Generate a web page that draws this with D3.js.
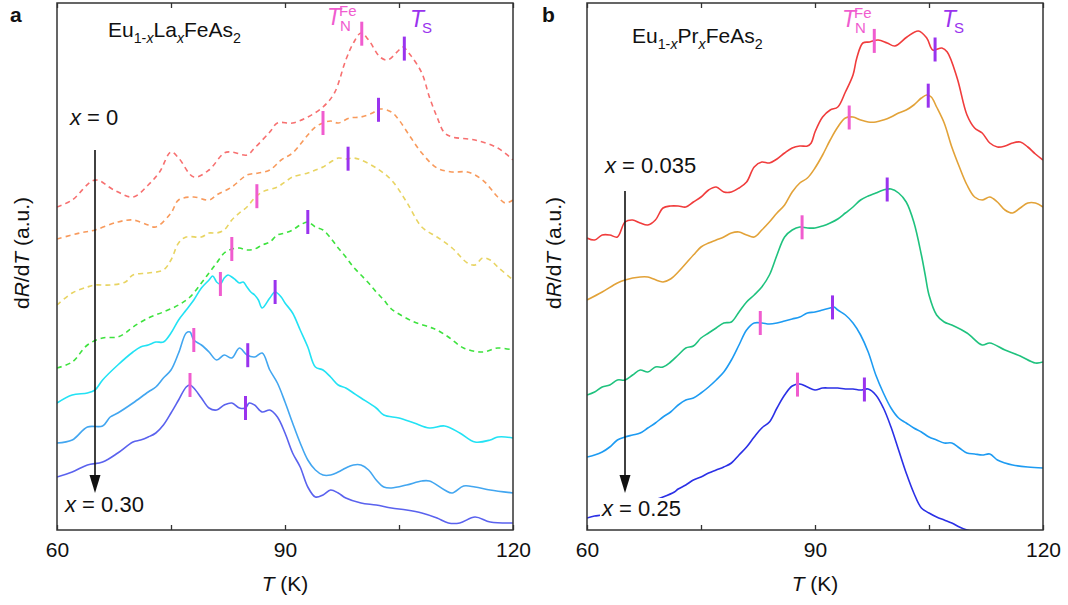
<!DOCTYPE html>
<meta charset="utf-8">
<head>
<style>
    body { margin: 0; background: #fff; }
    svg { font-family: "Liberation Sans", Arial, sans-serif; }
    .frame { fill: none; stroke: #333; stroke-width: 1.5; }
    .tick line { stroke: #333; stroke-width: 1.3; }
    .tick text { fill: #111; }
</style>
<script src="https://cdn.jsdelivr.net/npm/d3@7"></script>
</head>
<body>
<svg id="chart" width="1068" height="605"></svg>
<script>
// ---- panel a : Eu1-xLaxFeAs2, [T (K), dR/dT (a.u., offset)] ----
var laX000 = [[60,3.23],[62,3.30],[65,3.50],[67.5,3.40],[70,3.33],[72,3.45],[73.5,3.58],[75,3.78],[76,3.72],[78,3.53],[80,3.60],[82,3.77],[83,3.78],[85,3.75],[86,3.82],[88,3.98],[89,4.07],[91,4.07],[93,4.13],[95,4.23],[96.5,4.37],[98,4.70],[99,4.87],[100,4.97],[101,4.90],[102.5,4.73],[103.5,4.70],[105,4.80],[105.5,4.83],[106.5,4.75],[108,4.57],[109,4.33],[110,4.13],[111,3.97],[112,3.93],[115,3.90],[118,3.82],[120,3.70]];
var laX005 = [[60,2.91],[63,2.97],[65,3.00],[68,3.08],[70,3.10],[72,3.05],[73,3.03],[75,3.17],[76,3.30],[78,3.33],[80,3.30],[81,3.35],[83,3.43],[85,3.55],[86.5,3.57],[88,3.60],[89.5,3.70],[91,3.77],[93,3.95],[94,4.03],[95,4.07],[96,4.09],[97,4.07],[98.5,4.12],[100,4.13],[101.5,4.17],[102.5,4.21],[104,4.18],[105,4.10],[106.5,3.93],[108,3.77],[110,3.62],[112,3.58],[114,3.58],[116,3.50],[118,3.33],[119,3.27],[120,3.30]];
var laX010 = [[60,2.25],[62,2.37],[64,2.43],[65,2.45],[67,2.45],[69,2.48],[70,2.55],[72,2.57],[74,2.60],[75,2.70],[76,2.87],[77,2.93],[79,2.93],[80,2.97],[81,2.97],[82,3.00],[83,3.10],[84,3.17],[85,3.23],[86,3.32],[87,3.38],[89,3.43],[90,3.48],[91,3.53],[93,3.57],[94,3.60],[95,3.63],[96,3.68],[97,3.72],[98,3.71],[99,3.72],[100,3.70],[102,3.62],[104,3.50],[106,3.28],[108,3.03],[110,2.93],[112,2.82],[114,2.67],[115,2.65],[116,2.72],[117,2.70],[118,2.63],[120,2.50]];
var laX015 = [[60,1.62],[62,1.68],[64,1.85],[66,1.92],[68,1.93],[69,1.97],[70,2.03],[72,2.12],[74,2.18],[76,2.25],[77.5,2.33],[79,2.47],[80,2.57],[81,2.67],[82,2.77],[83,2.81],[84,2.82],[85,2.80],[86,2.81],[87,2.85],[88,2.88],[89,2.95],[90,2.97],[91,3.00],[92,3.05],[93,3.08],[94,3.03],[95,3.00],[96,2.92],[97,2.82],[98,2.73],[99,2.63],[100,2.55],[101,2.47],[102,2.38],[103,2.30],[104,2.21],[105,2.16],[107,2.08],[109,2.03],[110,2.00],[111.5,1.93],[113.5,1.82],[116,1.78],[118,1.82],[120,1.80]];
var laX020 = [[60,1.27],[62,1.35],[64,1.37],[65,1.40],[66,1.50],[68,1.65],[70,1.78],[71,1.83],[72,1.85],[73,1.88],[74,1.88],[75,1.97],[76,2.10],[77,2.20],[78,2.30],[79,2.42],[80,2.50],[80.5,2.54],[81,2.48],[81.5,2.46],[82,2.52],[82.5,2.55],[83,2.53],[83.5,2.50],[84,2.47],[84.5,2.48],[85,2.43],[85.5,2.38],[86,2.35],[86.5,2.30],[87,2.22],[88,2.32],[88.7,2.38],[89.5,2.33],[90,2.27],[91,2.17],[92,2.00],[93,1.83],[94,1.63],[95,1.60],[96,1.53],[97,1.45],[98,1.42],[99,1.37],[100,1.32],[102,1.22],[103,1.15],[105,1.12],[107,1.07],[109,1.02],[111,1.04],[113,0.97],[115,0.88],[117,0.90],[118,0.93],[120,0.92]];
var laX025 = [[60,0.87],[62,0.90],[64,1.03],[66,1.04],[67,1.13],[68,1.17],[70,1.27],[72,1.38],[73,1.43],[74,1.52],[75,1.60],[76,1.77],[77,1.97],[77.5,1.98],[78,1.90],[79,1.85],[80,1.78],[81,1.70],[82,1.75],[83,1.72],[84,1.82],[85,1.75],[86,1.73],[87,1.77],[88,1.60],[89,1.47],[90,1.28],[91,1.07],[92,0.87],[93,0.70],[94,0.60],[95,0.55],[96,0.55],[97,0.58],[98,0.62],[99,0.65],[100,0.65],[101,0.60],[102,0.50],[103,0.43],[104,0.42],[106,0.45],[108,0.49],[109,0.49],[111,0.40],[112,0.37],[113.5,0.44],[115,0.43],[117,0.40],[120,0.37]];
var laX030 = [[60,0.53],[62,0.58],[64,0.65],[66,0.68],[68,0.77],[70,0.88],[71,0.90],[72,0.93],[73,0.97],[74,1.05],[75,1.17],[76,1.30],[77,1.43],[77.5,1.45],[78,1.42],[79,1.32],[80,1.22],[81,1.20],[82,1.25],[83,1.27],[84,1.22],[84.8,1.22],[85.3,1.27],[86,1.25],[87,1.18],[88,1.20],[89,1.13],[90,0.97],[91,0.77],[92,0.63],[93,0.43],[94,0.33],[95,0.35],[96,0.40],[97,0.37],[98,0.32],[100,0.27],[102,0.25],[104,0.22],[106,0.20],[108,0.17],[110,0.12],[111.5,0.07],[113,0.07],[115,0.13],[117,0.08],[120,0.07]];
var laTN = [100.1, 95.0, 86.3, 83.0, 81.5, 78.0, 77.5];
var laTS = [105.7, 102.3, 98.3, 93.0, 88.7, 85.1, 84.8];

// ---- panel b : Eu1-xPrxFeAs2 ----
var prX035 = [[60,2.92],[61,2.90],[62,2.95],[63,2.95],[64,2.93],[65,3.08],[66,3.10],[67,3.07],[68,3.05],[69,3.10],[70,3.22],[71,3.24],[72,3.24],[73,3.23],[74,3.28],[75,3.33],[76,3.40],[77,3.43],[78,3.38],[79,3.38],[80,3.42],[81,3.48],[82,3.63],[83,3.68],[84,3.67],[85,3.71],[86,3.77],[87,3.82],[88,3.84],[89,3.84],[89.5,3.87],[90,3.98],[91,4.13],[92,4.20],[93,4.23],[94,4.38],[95,4.55],[95.5,4.72],[96.3,4.87],[97.2,4.88],[98.3,4.90],[99.5,4.87],[100.5,4.84],[102.1,4.93],[103.6,4.99],[104.7,4.92],[105.5,4.80],[106.7,4.82],[107.4,4.78],[108.7,4.52],[110,4.15],[111,4.02],[112,3.97],[113,3.87],[114,3.83],[115,3.84],[116,3.87],[117,3.88],[118,3.83],[119,3.76],[120,3.70]];
var prX050 = [[60,2.30],[62,2.38],[64,2.47],[65,2.50],[67,2.53],[68,2.53],[70,2.48],[71,2.51],[72,2.58],[74,2.75],[75,2.83],[76,2.87],[77,2.90],[78,2.93],[79,2.97],[80,2.98],[81,2.95],[82,2.93],[83,3.00],[84,3.08],[85,3.17],[86,3.25],[87,3.38],[88,3.47],[89,3.52],[90,3.62],[91,3.75],[92,3.90],[93,4.03],[94,4.12],[95,4.13],[96,4.10],[97,4.08],[98,4.08],[99,4.10],[100,4.13],[101,4.17],[102,4.20],[103,4.25],[104,4.32],[104.7,4.35],[105.3,4.33],[106,4.23],[107,4.07],[108,3.83],[109,3.63],[110,3.45],[111,3.33],[112,3.30],[113,3.33],[114,3.28],[115,3.20],[116,3.17],[117,3.22],[118,3.27],[119,3.27],[120,3.23]];
var prX100 = [[60,1.35],[61,1.38],[62,1.43],[63,1.45],[64,1.50],[65,1.50],[66,1.55],[67,1.60],[68,1.58],[69,1.63],[70,1.63],[71,1.68],[72,1.75],[73,1.82],[74,1.84],[75,1.92],[76,1.97],[77,2.02],[78,2.07],[79,2.08],[80,2.18],[81,2.28],[82,2.35],[83,2.43],[84,2.55],[85,2.75],[86,2.93],[87,3.00],[88,3.03],[89,3.02],[90,3.02],[91,3.04],[92,3.07],[93,3.11],[94,3.17],[95,3.23],[96,3.30],[97,3.34],[98,3.37],[99,3.40],[100,3.41],[101,3.37],[102,3.28],[103,3.08],[104,2.75],[104.5,2.55],[105,2.35],[106,2.15],[107,2.08],[108,2.05],[110,1.97],[112,1.85],[113,1.87],[115,1.80],[117,1.74],[119,1.67],[120,1.68]];
var prX150 = [[60,0.73],[61,0.75],[62,0.78],[63,0.83],[64,0.90],[65,0.93],[66,0.95],[67,0.97],[68,1.02],[69,1.07],[70,1.13],[71,1.18],[72,1.25],[73,1.30],[74,1.32],[75,1.37],[76,1.43],[77,1.50],[78,1.58],[79,1.70],[80,1.85],[81,2.00],[82,2.07],[83,2.07],[84,2.06],[85,2.07],[86,2.09],[87,2.11],[88,2.13],[89,2.17],[90,2.18],[91,2.20],[92,2.22],[92.5,2.23],[93,2.20],[94,2.15],[95,2.07],[96,1.95],[97,1.78],[98,1.55],[99,1.37],[100,1.22],[101,1.12],[102,1.07],[103,1.02],[104,0.98],[105,0.93],[106,0.90],[107,0.87],[108,0.87],[109,0.82],[110,0.77],[111,0.76],[112,0.75],[113,0.76],[114,0.70],[115,0.67],[116,0.65],[118,0.63],[120,0.62]];
var prX250 = [[60,0.12],[61,0.14],[62,0.15],[64,0.20],[66,0.24],[68,0.28],[70,0.33],[71.5,0.38],[72,0.41],[73,0.45],[74,0.50],[75,0.53],[76,0.57],[77,0.60],[78,0.63],[79,0.67],[80,0.75],[81,0.83],[82,0.93],[83,1.02],[84,1.08],[85,1.22],[86,1.35],[87,1.44],[88,1.46],[89,1.43],[90,1.40],[91,1.42],[92,1.42],[93,1.42],[94,1.41],[95,1.41],[96,1.40],[97,1.41],[98,1.35],[99,1.22],[100,1.03],[101,0.80],[102,0.57],[103,0.37],[104,0.22],[105,0.17],[106,0.13],[107,0.10],[108,0.07],[109,0.03],[110,0.00],[111,-0.02],[112,-0.05]];
var prTN = [97.8, 94.5, 88.3, 82.8, 87.7];
var prTS = [105.8, 104.9, 99.5, 92.3, 96.5];

var xTicks = [60, 75, 90, 105, 120];

var W = 456, H = 527;
var x = d3.scaleLinear().domain([60, 120]).range([0, W]);
var y = d3.scaleLinear().domain([0, 5.27]).range([H, 0]);
var svg = d3.select("#chart");

var line = d3.line()
    .x(function (d) { return x(d[0]); })
    .y(function (d) { return y(d[1]); })
    .curve(d3.curveCatmullRom.alpha(0.5));

function valueAt(pts, t) {
    for (var i = 1; i < pts.length; i++) {
        if (pts[i][0] >= t) {
            var a = pts[i - 1], b = pts[i];
            return a[1] + (b[1] - a[1]) * (t - a[0]) / (b[0] - a[0]);
        }
    }
    return pts[pts.length - 1][1];
}

// text with italic / sub / sup pieces
function rich(g, px, py, size, parts) {
    var t = g.append("text").attr("x", px).attr("y", py).attr("font-size", size).attr("fill", "#111");
    var shift = 0;
    parts.forEach(function (p) {
        var s = p[1] || "";
        var target = s.indexOf("sub") > -1 ? size * 0.28 : (s.indexOf("sup") > -1 ? -size * 0.42 : 0);
        var ts = t.append("tspan").text(p[0]).attr("dy", target - shift);
        if (target != 0) ts.attr("font-size", size * 0.68);
        if (s.indexOf("it") > -1) ts.attr("font-style", "italic");
        shift = target;
    });
    return t;
}

function drawPanel(cfg) {
    var g = svg.append("g").attr("transform", "translate(" + cfg.left + ",3)");

    g.append("clipPath").attr("id", "clip" + cfg.name)
        .append("rect").attr("width", W).attr("height", H);

    var curves = g.append("g").attr("clip-path", "url(#clip" + cfg.name + ")");

    cfg.series.forEach(function (pts, i) {
        curves.append("path")
            .datum(pts)
            .attr("d", line)
            .attr("fill", "none")
            .attr("stroke", cfg.colors[i])
            .attr("stroke-width", 1.6)
            .attr("stroke-dasharray", cfg.dashed[i] ? "5,4" : null);
    });

    // transition marks
    cfg.series.forEach(function (pts, i) {
        [[cfg.tn[i], "#f05ccf"], [cfg.ts[i], "#9a33ee"]].forEach(function (m) {
            var v = valueAt(pts, m[0]);
            g.append("line")
                .attr("x1", x(m[0])).attr("x2", x(m[0]))
                .attr("y1", y(v) - 12).attr("y2", y(v) + 12)
                .attr("stroke", m[1]).attr("stroke-width", 3);
        });
    });

    // axes
    var bottom = g.append("g").attr("transform", "translate(0," + H + ")")
        .call(d3.axisBottom(x).tickValues(xTicks).tickSizeInner(-5).tickSizeOuter(0).tickPadding(12)
            .tickFormat(function (d) { return d % 30 ? "" : d; }));
    var top = g.append("g")
        .call(d3.axisTop(x).tickValues(xTicks).tickSizeInner(-5).tickSizeOuter(0).tickFormat(""));
    bottom.select(".domain").remove();
    top.select(".domain").remove();
    bottom.attr("font-family", null).attr("font-size", 21);

    g.append("rect").attr("class", "frame").attr("width", W).attr("height", H);

    // arrow along the x series
    var ax = x(cfg.arrow[0]);
    g.append("line")
        .attr("x1", ax).attr("x2", ax)
        .attr("y1", y(cfg.arrow[1])).attr("y2", y(cfg.arrow[2]) - 14)
        .attr("stroke", "#111").attr("stroke-width", 1.6);
    g.append("path")
        .attr("d", "M" + (ax - 5.5) + "," + (y(cfg.arrow[2]) - 18) + "L" + (ax + 5.5) + "," + (y(cfg.arrow[2]) - 18) + "L" + ax + "," + y(cfg.arrow[2]) + "Z")
        .attr("fill", "#111");

    rich(g, cfg.topLabel[0], cfg.topLabel[1], 22, [["x", "it"], [" = " + cfg.xFirst]]);
    var low = rich(g, cfg.lowLabel[0], cfg.lowLabel[1], 22, [["x", "it"], [" = " + cfg.xLast]]);
    var bb = low.node().getBBox();
    g.insert("rect", function () { return low.node(); })
        .attr("x", bb.x - 1).attr("y", bb.y + 2).attr("width", bb.width + 2).attr("height", bb.height - 4)
        .attr("fill", "#fff");

    rich(g, cfg.title[0], cfg.title[1], 21, cfg.titleParts);

    // TN / TS labels
    g.append("text").attr("x", cfg.tnLab[0]).attr("y", cfg.tnLab[1]).attr("font-size", 23)
        .attr("font-style", "italic").attr("fill", "#f05ccf").text("T");
    g.append("text").attr("x", cfg.tnLab[0] + 12).attr("y", cfg.tnLab[1] - 9).attr("font-size", 15)
        .attr("fill", "#f05ccf").text("Fe");
    g.append("text").attr("x", cfg.tnLab[0] + 13).attr("y", cfg.tnLab[1] + 6).attr("font-size", 15)
        .attr("fill", "#f05ccf").text("N");
    g.append("text").attr("x", cfg.tsLab[0]).attr("y", cfg.tsLab[1]).attr("font-size", 23)
        .attr("font-style", "italic").attr("fill", "#9a33ee").text("T");
    g.append("text").attr("x", cfg.tsLab[0] + 12).attr("y", cfg.tsLab[1] + 6).attr("font-size", 15)
        .attr("fill", "#9a33ee").text("S");

    // axis titles
    rich(g, W / 2, 588, 21, [["T", "it"], [" (K)"]]).attr("text-anchor", "middle");
    rich(g, 0, 0, 21, [["d"], ["R", "it"], ["/d"], ["T", "it"], [" (a.u.)"]])
        .attr("text-anchor", "middle")
        .attr("transform", "translate(" + (29 + cfg.letterX - 10 - cfg.left) + ",250) rotate(-90)");

    g.append("text").attr("x", cfg.letterX - cfg.left).attr("y", 19)
        .attr("font-size", 21).attr("font-weight", "bold").attr("fill", "#111").text(cfg.name);
}

drawPanel({
    name: "a", left: 57, letterX: 10,
    series: [laX000, laX005, laX010, laX015, laX020, laX025, laX030],
    colors: ["#f77070", "#f89a5c", "#e8d462", "#3ee23e", "#22e2f4", "#42a6f0", "#5a62ee"],
    dashed: [true, true, true, true, false, false, false],
    tn: laTN, ts: laTS,
    arrow: [65, 3.80, 0.37],
    topLabel: [13, 122], lowLabel: [8, 509], xFirst: "0", xLast: "0.30",
    title: [51, 34], titleParts: [["Eu"], ["1-", "sub"], ["x", "subit"], ["La"], ["x", "subit"], ["FeAs"], ["2", "sub"]],
    tnLab: [270, 22], tsLab: [353, 24]
});

drawPanel({
    name: "b", left: 587, letterX: 542,
    series: [prX035, prX050, prX100, prX150, prX250],
    colors: ["#f03c3c", "#e2a238", "#1fc27e", "#1d9bf2", "#2b30e6"],
    dashed: [false, false, false, false, false],
    tn: prTN, ts: prTS,
    arrow: [65, 3.39, 0.37],
    topLabel: [18, 170], lowLabel: [15, 513], xFirst: "0.035", xLast: "0.25",
    title: [45, 40], titleParts: [["Eu"], ["1-", "sub"], ["x", "subit"], ["Pr"], ["x", "subit"], ["FeAs"], ["2", "sub"]],
    tnLab: [255, 24], tsLab: [355, 24]
});
</script>
</body>
